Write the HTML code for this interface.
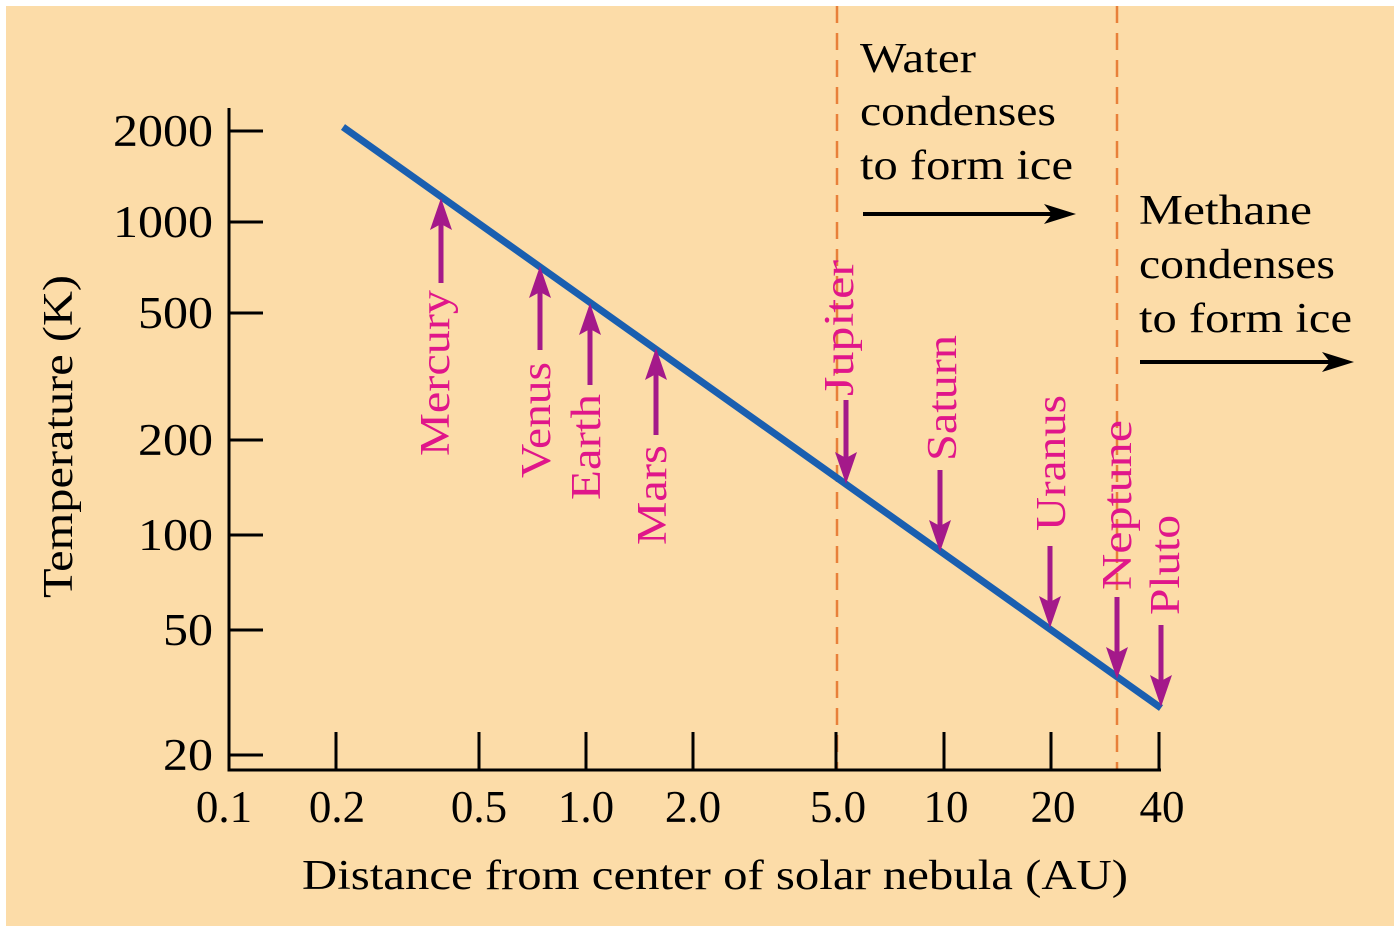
<!DOCTYPE html>
<html><head><meta charset="utf-8"><style>
html,body{margin:0;padding:0;background:#fff;}
svg{display:block;}
text{font-family:"Liberation Serif",serif;}
</style></head><body>
<svg width="1400" height="932" viewBox="0 0 1400 932" xmlns="http://www.w3.org/2000/svg">
<rect x="6" y="6" width="1388" height="920" fill="#fcdca8"/>
<line x1="837" y1="6" x2="837" y2="770" stroke="#e8803a" stroke-width="2.5" stroke-dasharray="17,10"/>
<line x1="1117" y1="6" x2="1117" y2="770" stroke="#e8803a" stroke-width="2.5" stroke-dasharray="17,10"/>
<g stroke="#000" stroke-width="3" fill="none">
<path d="M229,108 V770 H1161"/>
<path d="M229,131 H263 M229,222 H263 M229,313 H263 M229,440 H263 M229,535 H263 M229,630 H263 M229,755 H263"/>
<path d="M336,770 V732 M479,770 V732 M586,770 V732 M693,770 V732 M836,770 V732 M944,770 V732 M1051,770 V732 M1159,770 V732"/>
</g>
<g font-size="45" fill="#000" text-anchor="end">
<text x="213" y="146" textLength="100" lengthAdjust="spacingAndGlyphs">2000</text>
<text x="213" y="237" textLength="100" lengthAdjust="spacingAndGlyphs">1000</text>
<text x="213" y="328" textLength="75" lengthAdjust="spacingAndGlyphs">500</text>
<text x="213" y="455" textLength="75" lengthAdjust="spacingAndGlyphs">200</text>
<text x="213" y="550" textLength="75" lengthAdjust="spacingAndGlyphs">100</text>
<text x="213" y="645" textLength="50" lengthAdjust="spacingAndGlyphs">50</text>
<text x="213" y="770" textLength="50" lengthAdjust="spacingAndGlyphs">20</text>
</g>
<g font-size="45" fill="#000" text-anchor="middle">
<text x="224" y="822">0.1</text>
<text x="337" y="822">0.2</text>
<text x="479" y="822">0.5</text>
<text x="586" y="822">1.0</text>
<text x="693" y="822">2.0</text>
<text x="838" y="822">5.0</text>
<text x="946" y="822">10</text>
<text x="1053" y="822">20</text>
<text x="1162" y="822">40</text>
</g>
<text x="302" y="889" font-size="42" textLength="826" lengthAdjust="spacingAndGlyphs">Distance from center of solar nebula (AU)</text>
<text transform="translate(72,598) rotate(-90)" font-size="42" textLength="323" lengthAdjust="spacingAndGlyphs">Temperature (K)</text>
<line x1="343" y1="127" x2="1161" y2="708" stroke="#1a5fb0" stroke-width="7"/>
<g stroke="#a4198a" stroke-width="5">
<line x1="441" y1="283" x2="441" y2="222"/>
<line x1="540" y1="350" x2="540" y2="290"/>
<line x1="590" y1="385" x2="590" y2="327"/>
<line x1="656" y1="435" x2="656" y2="372"/>
<line x1="846" y1="400" x2="846" y2="460"/>
<line x1="940" y1="470" x2="940" y2="528"/>
<line x1="1050" y1="546" x2="1050" y2="604"/>
<line x1="1117" y1="597" x2="1117" y2="655"/>
<line x1="1161" y1="625" x2="1161" y2="683"/>
</g>
<g fill="#a4198a">
<polygon points="441,198 452,230 441,224 430,230"/>
<polygon points="540,266 551,298 540,292 529,298"/>
<polygon points="590,303 601,335 590,329 579,335"/>
<polygon points="656,348 667,380 656,374 645,380"/>
<polygon points="846,484 857,452 846,458 835,452"/>
<polygon points="940,552 951,520 940,526 929,520"/>
<polygon points="1050,628 1061,596 1050,602 1039,596"/>
<polygon points="1117,679 1128,647 1117,653 1106,647"/>
<polygon points="1161,707 1172,675 1161,681 1150,675"/>
</g>
<g font-size="42" fill="#e0168a">
<text transform="translate(449,456) rotate(-90)" textLength="166" lengthAdjust="spacingAndGlyphs">Mercury</text>
<text transform="translate(550,478) rotate(-90)" textLength="116" lengthAdjust="spacingAndGlyphs">Venus</text>
<text transform="translate(600,500) rotate(-90)" textLength="106" lengthAdjust="spacingAndGlyphs">Earth</text>
<text transform="translate(666,545) rotate(-90)" textLength="100" lengthAdjust="spacingAndGlyphs">Mars</text>
<text transform="translate(853,396) rotate(-90)" textLength="136" lengthAdjust="spacingAndGlyphs">Jupiter</text>
<text transform="translate(956,461) rotate(-90)" textLength="126" lengthAdjust="spacingAndGlyphs">Saturn</text>
<text transform="translate(1065,531) rotate(-90)" textLength="136" lengthAdjust="spacingAndGlyphs">Uranus</text>
<text transform="translate(1131,590) rotate(-90)" textLength="170" lengthAdjust="spacingAndGlyphs">Neptune</text>
<text transform="translate(1179,615) rotate(-90)" textLength="100" lengthAdjust="spacingAndGlyphs">Pluto</text>
</g>
<g font-size="42" fill="#000">
<text x="860" y="72" textLength="116" lengthAdjust="spacingAndGlyphs">Water</text>
<text x="860" y="125" textLength="196" lengthAdjust="spacingAndGlyphs">condenses</text>
<text x="860" y="179" textLength="213" lengthAdjust="spacingAndGlyphs">to form ice</text>
<text x="1139" y="224" textLength="173" lengthAdjust="spacingAndGlyphs">Methane</text>
<text x="1139" y="278" textLength="196" lengthAdjust="spacingAndGlyphs">condenses</text>
<text x="1139" y="332" textLength="213" lengthAdjust="spacingAndGlyphs">to form ice</text>
</g>
<g stroke="#000" stroke-width="4">
<line x1="863" y1="214" x2="1056" y2="214"/>
<line x1="1140" y1="362" x2="1334" y2="362"/>
</g>
<g fill="#000">
<polygon points="1076,214 1044,204 1052,214 1044,224"/>
<polygon points="1354,362 1322,352 1330,362 1322,372"/>
</g>
</svg>
</body></html>
